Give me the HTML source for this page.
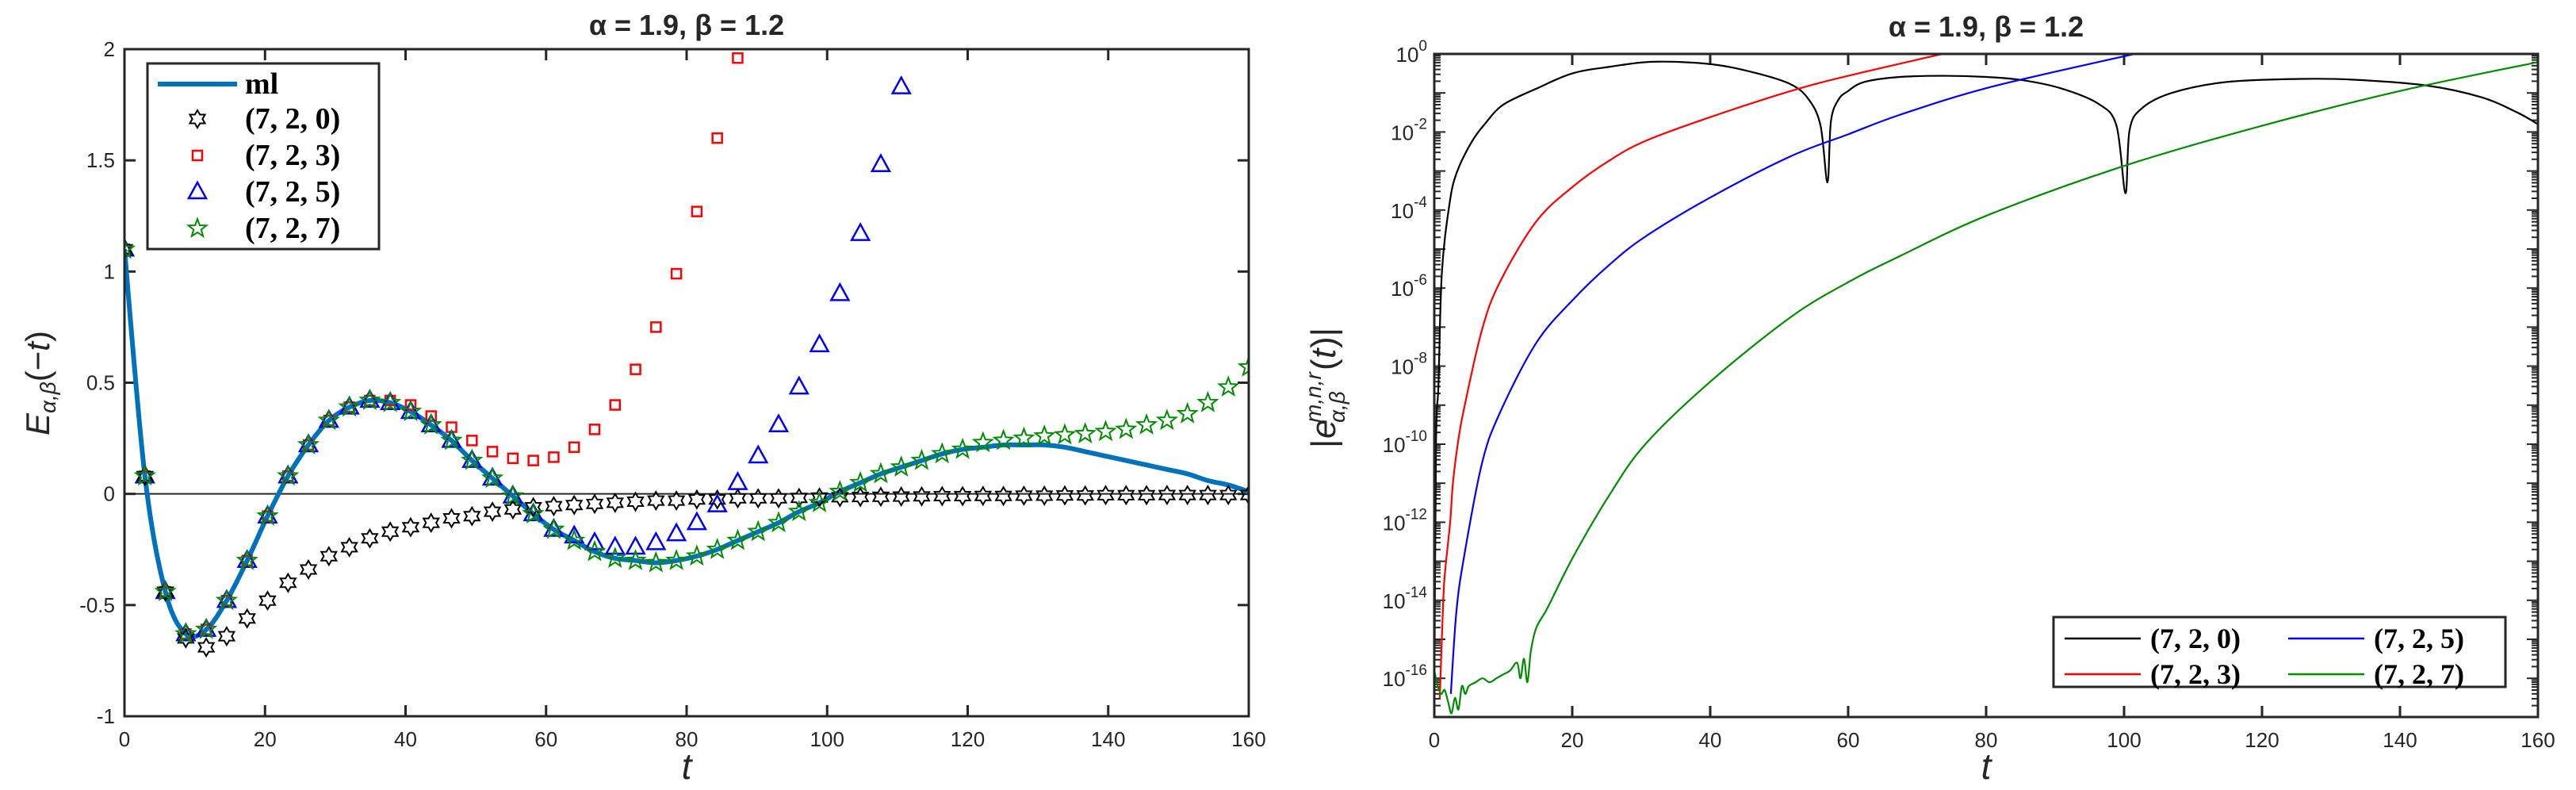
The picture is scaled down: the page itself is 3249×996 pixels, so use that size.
<!DOCTYPE html>
<html><head><meta charset="utf-8"><style>
html,body{margin:0;padding:0;background:#fff}
svg{display:block}
text{font-family:"Liberation Sans",sans-serif;fill:#262626}
.tk{font-size:26px}
.lg{font-family:"Liberation Serif",serif;font-size:38px;font-weight:bold;fill:#000}
.lgr{font-family:"Liberation Serif",serif;font-size:36px;font-weight:bold;fill:#000}
</style></head><body>
<svg id="fig" width="3249" height="996" viewBox="0 0 3249 996" xmlns="http://www.w3.org/2000/svg">
<defs>
<clipPath id="clipL"><rect x="157" y="62" width="1418" height="842"/></clipPath>
<clipPath id="clipR"><rect x="1809" y="68" width="1392" height="836"/></clipPath>
</defs>
<g id="left"></g>
<g id="right"></g>
</svg>
<script>
// ---- Left chart data ----
const markerT = Array.from({length:56},(_, k)=>k*160/55);
const mlVals = [1.1,0.08,-0.44,-0.63,-0.61,-0.48,-0.30,-0.10,0.08,0.22,0.33,0.39,0.42,0.41,0.37,0.31,0.24,0.15,0.07,-0.01,-0.09,-0.16,-0.21,-0.26,-0.29,-0.30,-0.31,-0.30,-0.28,-0.25,-0.21,-0.17,-0.13,-0.08,-0.04,0.01,0.05,0.09,0.12,0.15,0.18,0.20,0.21,0.22,0.22,0.22,0.21,0.19,0.17,0.15,0.13,0.11,0.09,0.06,0.04,0.01];
const r0Vals = [1.1,0.08,-0.44,-0.65,-0.69,-0.64,-0.56,-0.48,-0.40,-0.34,-0.28,-0.24,-0.20,-0.17,-0.15,-0.13,-0.11,-0.10,-0.08,-0.07,-0.06,-0.055,-0.05,-0.045,-0.04,-0.035,-0.03,-0.03,-0.025,-0.025,-0.02,-0.02,-0.02,-0.018,-0.016,-0.015,-0.014,-0.013,-0.012,-0.011,-0.01,-0.01,-0.009,-0.009,-0.008,-0.008,-0.007,-0.007,-0.006,-0.006,-0.006,-0.005,-0.005,-0.005,-0.005,-0.005];
const r3Vals = [1.1,0.08,-0.44,-0.63,-0.61,-0.48,-0.30,-0.10,0.08,0.22,0.33,0.39,0.42,0.42,0.40,0.35,0.30,0.24,0.19,0.16,0.15,0.165,0.21,0.29,0.40,0.56,0.75,0.99,1.27,1.60,1.96];
const r5Vals = [1.1,0.08,-0.44,-0.63,-0.61,-0.48,-0.30,-0.10,0.08,0.22,0.33,0.39,0.42,0.41,0.37,0.31,0.24,0.15,0.07,-0.01,-0.09,-0.16,-0.19,-0.22,-0.24,-0.24,-0.22,-0.18,-0.13,-0.05,0.05,0.17,0.31,0.48,0.67,0.90,1.17,1.48,1.83];
const r7Vals = [1.1,0.08,-0.44,-0.63,-0.61,-0.48,-0.30,-0.10,0.08,0.22,0.33,0.39,0.42,0.41,0.37,0.31,0.24,0.15,0.07,-0.01,-0.09,-0.16,-0.21,-0.26,-0.29,-0.30,-0.31,-0.30,-0.28,-0.25,-0.21,-0.17,-0.13,-0.08,-0.04,0.01,0.05,0.09,0.12,0.15,0.18,0.20,0.23,0.24,0.25,0.26,0.265,0.27,0.28,0.29,0.31,0.33,0.36,0.41,0.48,0.57];
const xTicksL = [0,20,40,60,80,100,120,140,160];
const yTicksL = [-1,-0.5,0,0.5,1,1.5,2];
const yTickLabelsL = ["-1","-0.5","0","0.5","1","1.5","2"];

// ---- Right chart data (log10 of error) ----
const blackT = [0,0.25,0.6,1.1,2.2,3.2,5.3,7.4,10,14.8,20,25.4,31.7,40,46.4,51.7,54.3,56,57,57.5,58.6,60,62.3,67.5,73.9,80,85.2,91,96.3,98.9,100.2,100.8,102.6,106.9,114.8,125.4,133.3,143.9,151.8,157,160];
const blackLog = [-17,-10,-8.5,-5.6,-3.85,-3.07,-2.29,-1.78,-1.3,-0.89,-0.5,-0.33,-0.2,-0.26,-0.48,-0.78,-1.17,-1.84,-3.29,-1.73,-1.17,-0.95,-0.72,-0.59,-0.56,-0.59,-0.67,-0.89,-1.28,-1.84,-3.57,-1.95,-1.39,-1.0,-0.72,-0.64,-0.66,-0.81,-1.11,-1.5,-1.8];
const redT = [0.8,1.3,1.6,2.3,2.7,3.4,4.3,6.9,9.5,14.8,20.1,25.4,30.6,40,51.7,60,74.4];
const redLog = [-16.5,-14,-13.2,-12,-11.0,-10,-9.1,-7.08,-5.85,-4.29,-3.4,-2.73,-2.23,-1.62,-0.95,-0.56,0.03];
const blueT = [2.4,3.2,4.3,6.9,9.5,14.8,20.1,25.4,30.6,40,51.7,60,67.5,80.4,100,102.6];
const blueLog = [-16.4,-14.3,-12.9,-10.5,-9.2,-7.4,-6.3,-5.4,-4.68,-3.68,-2.62,-2.06,-1.56,-0.86,-0.06,0.03];
const greenT = [0,0.5,1,1.5,2,2.5,3,3.5,4,4.5,5,6,7,8,9,10,11,12,12.5,13,13.5,14,14.8,16.4,20.1,25.4,30.6,40,51.7,60,67.5,80.4,100,120,140,159.7,160];
const greenLog = [-15.8,-16.2,-16.4,-16.3,-16.6,-16.9,-16.5,-16.8,-16.2,-16.4,-16.2,-16.1,-16.0,-16.1,-16.0,-15.9,-15.8,-15.6,-16.0,-15.5,-16.1,-15.3,-14.7,-14.2,-12.9,-11.3,-10.0,-8.4,-6.74,-5.85,-5.18,-4.12,-2.87,-1.84,-0.95,-0.22,-0.21];
const xTicksR = [0,20,40,60,80,100,120,140,160];
const yExpR = [0,-2,-4,-6,-8,-10,-12,-14,-16];

const NS="http://www.w3.org/2000/svg";
function mk(parent,tag,attrs,txt){const e=document.createElementNS(NS,tag);for(const k in attrs)e.setAttribute(k,attrs[k]);if(txt!==undefined)e.textContent=txt;parent.appendChild(e);return e;}
const AX="#262626";

// ===== LEFT =====
const L=document.getElementById('left');
const xL=t=>157+t/160*1418;
const yL=v=>62+(2-v)*841/3;
mk(L,'rect',{x:157,y:62,width:1418,height:841,fill:'#fff',stroke:'none'});
const zl=mk(L,'line',{x1:157,x2:1575,y1:yL(0),y2:yL(0),stroke:'#262626','stroke-width':2});


xTicksL.forEach(t=>{
  const g=mk(L,'g',{});
  
  
  mk(g,'line',{x1:xL(t),x2:xL(t),y1:903,y2:889,stroke:AX,'stroke-width':3});
  mk(g,'line',{x1:xL(t),x2:xL(t),y1:62,y2:76,stroke:AX,'stroke-width':3});
  mk(g,'text',{x:xL(t),y:941,'text-anchor':'middle',class:'tk'},String(t));
});
yTicksL.forEach((v,i)=>{
  const g=mk(L,'g',{});
  
  
  mk(g,'line',{x1:157,x2:171,y1:yL(v),y2:yL(v),stroke:AX,'stroke-width':3});
  mk(g,'line',{x1:1575,x2:1561,y1:yL(v),y2:yL(v),stroke:AX,'stroke-width':3});
  mk(g,'text',{x:145,y:yL(v)+9,'text-anchor':'end',class:'tk'},yTickLabelsL[i]);
});
function smoothPath(px){let d=`M${px[0][0]},${px[0][1]}`;for(let i=0;i<px.length-1;i++){const p0=px[Math.max(0,i-1)],p1=px[i],p2=px[i+1],p3=px[Math.min(px.length-1,i+2)];const c1=[p1[0]+(p2[0]-p0[0])/6,p1[1]+(p2[1]-p0[1])/6],c2=[p2[0]-(p3[0]-p1[0])/6,p2[1]-(p3[1]-p1[1])/6];d+=` C${c1[0]},${c1[1]} ${c2[0]},${c2[1]} ${p2[0]},${p2[1]}`;}return d;}
const cl=mk(L,'g',{'clip-path':'url(#clipL)'});
const mlPath=mk(cl,'path',{d:smoothPath(mlVals.map((v,i)=>[xL(markerT[i]),yL(v)])),fill:'none',stroke:'#0072BD','stroke-width':6});


function starPts(cx,cy,n,ro,ri){let p=[];for(let i=0;i<2*n;i++){const r=i%2?ri:ro;const a=-Math.PI/2+i*Math.PI/n;p.push((cx+r*Math.cos(a)).toFixed(1)+','+(cy+r*Math.sin(a)).toFixed(1));}return p.join(' ');}
function marker(g,type,cx,cy,color){
  if(type==='hex')return mk(g,'polygon',{points:starPts(cx,cy,6,11,6.4),fill:'none',stroke:color,'stroke-width':2});
  if(type==='sq')return mk(g,'rect',{x:cx-6,y:cy-6,width:12,height:12,fill:'none',stroke:color,'stroke-width':2.5});
  if(type==='tri')return mk(g,'polygon',{points:`${cx},${cy-12} ${cx-11},${cy+8} ${cx+11},${cy+8}`,fill:'none',stroke:color,'stroke-width':2.5});
  if(type==='pent')return mk(g,'polygon',{points:starPts(cx,cy,5,12,5),fill:'none',stroke:color,'stroke-width':2});
}
const series=[[r3Vals,'sq','#FF0000','series-723'],[r5Vals,'tri','#0000FF','series-725'],[r0Vals,'hex','#000000','series-720'],[r7Vals,'pent','#008C00','series-727']];
series.forEach(([vals,type,col,name])=>{
  const g=mk(cl,'g',{});
  
  
  vals.forEach((v,i)=>{const m=marker(g,type,xL(markerT[i]),yL(v),col);});
});
mk(L,'rect',{x:157,y:62,width:1418,height:841,fill:'none',stroke:AX,'stroke-width':3});
const lgL=mk(L,'g',{});


mk(lgL,'rect',{x:186,y:80,width:292,height:234,fill:'#fff',stroke:AX,'stroke-width':3});
mk(lgL,'line',{x1:199,x2:299,y1:106,y2:106,stroke:'#0072BD','stroke-width':6});
mk(lgL,'text',{x:309,y:118,class:'lg'},'ml');
const lgItems=[['hex','#000','(7, 2, 0)'],['sq','#f00','(7, 2, 3)'],['tri','#00f','(7, 2, 5)'],['pent','#008C00','(7, 2, 7)']];
lgItems.forEach(([tp,c,lab],i)=>{const y=150+i*46;const e=mk(lgL,'g',{});marker(e,tp,249,y,c);mk(e,'text',{x:309,y:y+12,class:'lg'},lab);});
mk(L,'text',{x:866,y:44,'text-anchor':'middle','font-size':36,'font-weight':'bold',fill:'#000'},'α = 1.9, β = 1.2');
mk(L,'text',{x:866,y:982,'text-anchor':'middle','font-size':46,'font-style':'italic','font-family':'Liberation Serif, serif',fill:'#262626'},'t');
const ylabL=mk(L,'text',{x:0,y:0,transform:'translate(62,483) rotate(-90)','text-anchor':'middle','font-size':42,'font-style':'italic','font-family':'Liberation Serif, serif',fill:'#262626'},'');

ylabL.innerHTML='E<tspan font-size="28" dy="8">α,β</tspan><tspan dy="-8" font-style="normal">(−</tspan>t<tspan font-style="normal">)</tspan>';

// ===== RIGHT =====
const R=document.getElementById('right');
const xR=t=>1809+t/160*1392;
const yR=l=>68-l*49.2;
mk(R,'rect',{x:1809,y:68,width:1392,height:836,fill:'#fff'});
xTicksR.forEach(t=>{
  const g=mk(R,'g',{});
  
  
  mk(g,'line',{x1:xR(t),x2:xR(t),y1:904,y2:890,stroke:AX,'stroke-width':3});
  mk(g,'line',{x1:xR(t),x2:xR(t),y1:68,y2:82,stroke:AX,'stroke-width':3});
  mk(g,'text',{x:xR(t),y:942,'text-anchor':'middle',class:'tk'},String(t));
});
for(let d=-17;d<=0;d++){
  for(let m=1;m<10;m++){const l=d+Math.log10(m);const y=yR(l);if(y<68||y>904)continue;const len=m===1?14:8;
    mk(R,'line',{x1:1809,x2:1809+len,y1:y,y2:y,stroke:AX,'stroke-width':2});
    mk(R,'line',{x1:3201,x2:3201-len,y1:y,y2:y,stroke:AX,'stroke-width':2});}
}
yExpR.forEach(e=>{
  const t=mk(R,'text',{x:1800,y:yR(e)+10,'text-anchor':'end',class:'tk'},'');
  
  
  t.innerHTML='10<tspan dy="-14" font-size="19">'+e+'</tspan>';
});
const cr=mk(R,'g',{'clip-path':'url(#clipR)'});
[[blackT,blackLog,'#000','err-720'],[redT,redLog,'#f00','err-723'],[blueT,blueLog,'#00f','err-725'],[greenT,greenLog,'#008C00','err-727']].forEach(([T,V,c,n])=>{
  const p=mk(cr,'path',{d:smoothPath(T.map((t,i)=>[xR(t),yR(V[i])])),fill:'none',stroke:c,'stroke-width':2.2,'stroke-linejoin':'round'});
  
  
});
mk(R,'rect',{x:1809,y:68,width:1392,height:836,fill:'none',stroke:AX,'stroke-width':3});
const lgR=mk(R,'g',{});


mk(lgR,'rect',{x:2590,y:778,width:570,height:88,fill:'#fff',stroke:AX,'stroke-width':3});
[['#000','(7, 2, 0)',2604,805],['#00f','(7, 2, 5)',2886,805],['#f00','(7, 2, 3)',2604,850],['#008C00','(7, 2, 7)',2886,850]].forEach(([c,lab,x,y],i)=>{
  const e=mk(lgR,'g',{});
  mk(e,'line',{x1:x,x2:x+96,y1:y,y2:y,stroke:c,'stroke-width':2.5});
  mk(e,'text',{x:x+108,y:y+12,class:'lgr'},lab);
});
mk(R,'text',{x:2505,y:46,'text-anchor':'middle','font-size':36,'font-weight':'bold',fill:'#000'},'α = 1.9, β = 1.2');
mk(R,'text',{x:2505,y:982,'text-anchor':'middle','font-size':46,'font-style':'italic','font-family':'Liberation Serif, serif',fill:'#262626'},'t');
const ylabR=mk(R,'g',{transform:'translate(1684,487) rotate(-90)'});


const ff='Liberation Serif, serif';
mk(ylabR,'text',{x:-78,y:0,'font-size':44,'font-family':ff,fill:'#262626'},'|');
mk(ylabR,'text',{x:-66,y:0,'font-size':44,'font-style':'italic','font-family':ff,fill:'#262626'},'e');
mk(ylabR,'text',{x:-46,y:-18,'font-size':28,'font-style':'italic','font-family':ff,fill:'#262626'},'m,n,r');
mk(ylabR,'text',{x:-46,y:12,'font-size':28,'font-style':'italic','font-family':ff,fill:'#262626'},'α,β');
mk(ylabR,'text',{x:20,y:0,'font-size':44,'font-family':ff,fill:'#262626'},'(');
mk(ylabR,'text',{x:35,y:0,'font-size':44,'font-style':'italic','font-family':ff,fill:'#262626'},'t');
mk(ylabR,'text',{x:48,y:0,'font-size':44,'font-family':ff,fill:'#262626'},')|');
</script>
</body></html>
